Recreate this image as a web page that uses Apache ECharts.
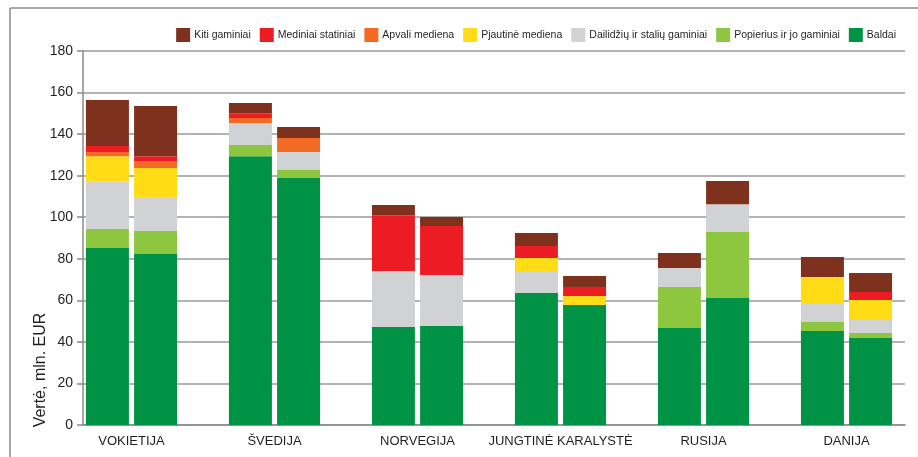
<!DOCTYPE html>
<html>
<head>
<meta charset="utf-8">
<script src="https://cdn.jsdelivr.net/npm/echarts@6/dist/echarts.min.js"></script>
<style>html,body{margin:0;padding:0;background:#fff}#c{width:918px;height:457px}</style>
</head>
<body>
<div id="c"></div>
<script>
const categories = ['VOKIETIJA', 'ŠVEDIJA', 'NORVEGIJA', 'JUNGTINĖ KARALYSTĖ', 'RUSIJA', 'DANIJA'];
const yTicks = [0, 20, 40, 60, 80, 100, 120, 140, 160, 180];
const seriesNames = ['Baldai', 'Popierius ir jo gaminiai', 'Dailidžių ir stalių gaminiai', 'Pjautinė mediena', 'Apvali mediena', 'Mediniai statiniai', 'Kiti gaminiai'];
const colors = ['#009245', '#8DC63F', '#D1D2D4', '#FFDC16', '#F36A24', '#ED1C24', '#7E311D'];

// first bar (left) of each country
const baldai1     = [85.2, 129.4, 47.2, 63.5, 46.7, 45.2];
const popierius1  = [9.1, 5.3, 0, 0, 19.7, 4.4];
const dailidziu1  = [22.8, 10.6, 26.9, 10.6, 9.2, 9.1];
const pjautine1   = [12.3, 0, 0, 6.3, 0, 12.5];
const apvali1     = [2.0, 2.4, 0, 0, 0, 0];
const mediniai1   = [2.9, 2.4, 26.9, 5.7, 0, 0];
const kiti1       = [22.1, 4.9, 4.9, 6.3, 7.2, 9.6];
// second bar (right) of each country
const baldai2     = [82.3, 118.9, 47.6, 57.7, 61.1, 41.9];
const popierius2  = [11.1, 3.8, 0, 0, 31.8, 2.4];
const dailidziu2  = [16.3, 8.7, 24.6, 0, 13.4, 6.2];
const pjautine2   = [14.0, 0, 0, 4.4, 0, 9.7];
const apvali2     = [3.3, 6.7, 0, 0, 0, 0];
const mediniai2   = [2.4, 0, 23.6, 4.3, 0, 3.8];
const kiti2       = [24.1, 5.3, 4.3, 5.3, 11.1, 9.1];

const bar1 = [baldai1, popierius1, dailidziu1, pjautine1, apvali1, mediniai1, kiti1];
const bar2 = [baldai2, popierius2, dailidziu2, pjautine2, apvali2, mediniai2, kiti2];

const series = [];
[bar1, bar2].forEach(function (set, si) {
  set.forEach(function (arr, i) {
    series.push({
      type: 'bar', name: seriesNames[i], stack: 's' + si,
      xAxisIndex: 1, yAxisIndex: 1,
      barWidth: 43, barGap: '12%',
      itemStyle: { color: colors[i] },
      data: arr
    });
  });
});

const chart = echarts.init(document.getElementById('c'), null, { renderer: 'canvas' });
const font = 'Liberation Sans Narrow, Liberation Sans, Arial, sans-serif';
chart.setOption({
  animation: false,
  backgroundColor: '#fff',
  textStyle: { fontFamily: 'Liberation Sans, Arial, sans-serif' },
  legend: {
    right: 22, top: 28, padding: 0, itemWidth: 14, itemHeight: 14, itemGap: 9,
    icon: 'rect',
    data: seriesNames.slice().reverse(),
    textStyle: { fontFamily: font, fontSize: 10.5, color: '#231F20', padding: [0, 0, 0, -1] }
  },
  grid: [
    { left: 83, right: 13, top: 51, bottom: 32 },
    { left: 60, right: -6, top: 51, bottom: 32 }
  ],
  xAxis: [
    { type: 'value', gridIndex: 0, min: 0, max: 1, axisLine: { show: true, onZero: false, lineStyle: { color: '#8a8a8a', width: 1.5 } },
      axisTick: { show: false }, axisLabel: { show: false }, splitLine: { show: false } },
    { type: 'category', gridIndex: 1, data: categories, axisLine: { show: false }, axisTick: { show: false },
      axisLabel: { color: '#231F20', fontSize: 13, margin: 10, interval: 0 } }
  ],
  yAxis: [
    { type: 'value', gridIndex: 0, min: 0, max: 180, interval: 20,
      axisLine: { show: true, lineStyle: { color: '#8a8a8a', width: 1.5 } },
      axisTick: { show: true, length: 6, lineStyle: { color: '#8a8a8a', width: 1.5 } },
      axisLabel: { color: '#231F20', fontSize: 14, margin: 10,
        formatter: function (v) { return yTicks.indexOf(v) >= 0 ? String(v) : ''; } },
      splitLine: { show: true, lineStyle: { color: '#9a9a9a', width: 1.5 } } },
    { type: 'value', gridIndex: 1, min: 0, max: 180, interval: 20, show: false, splitLine: { show: false } }
  ],
  graphic: [
    { type: 'line', shape: { x1: 10, y1: 8, x2: 918, y2: 8 }, style: { stroke: '#8a8a8a', lineWidth: 1.5 } },
    { type: 'line', shape: { x1: 10, y1: 8, x2: 10, y2: 457 }, style: { stroke: '#8a8a8a', lineWidth: 1.5 } },
    { type: 'text', x: 41, y: 370, rotation: Math.PI / 2,
      style: { text: 'Vertė, mln. EUR', fill: '#231F20', fontSize: 16, fontFamily: 'Liberation Sans, Arial, sans-serif', textAlign: 'center', textVerticalAlign: 'middle' } }
  ],
  series: series
});
</script>
</body>
</html>
